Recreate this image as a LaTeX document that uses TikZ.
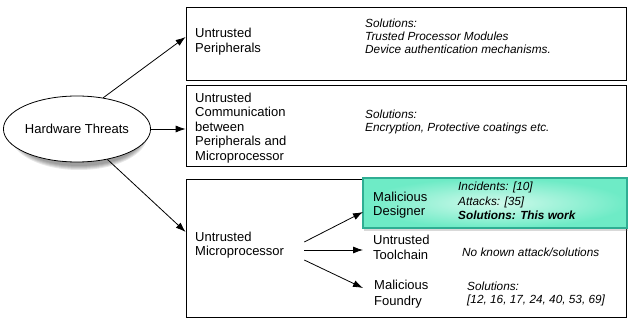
\documentclass[tikz,border=0pt]{standalone}
\usepackage{fontspec}
\setmainfont{Liberation Sans}
\usetikzlibrary{shapes.geometric,shadows,arrows.meta}

\definecolor{mintin}{HTML}{D2FAEC}
\definecolor{mintout}{HTML}{6EEBC6}
\definecolor{mintline}{HTML}{2FAE93}

\begin{document}
\begin{tikzpicture}[x=1pt,y=-1pt,
    box/.style={draw, line width=0.8pt, minimum width=440, inner sep=0},
    label/.style={anchor=west, align=left, inner sep=0, font=\fontsize{13}{14.5}\selectfont},
    note/.style={anchor=west, align=left, inner sep=0, font=\fontsize{11.8}{13}\selectfont\itshape},
    arr/.style={line width=0.8pt, -{Latex[length=10pt,width=7pt]}}]
    \useasboundingbox (0,0) rectangle (628,320);

    % Root with soft shadow
    \foreach \s in {0,...,4}
        \fill[black, opacity=0.09] (79,135) ellipse ({64.5+\s} and {31+\s});
    \node[ellipse, draw, line width=0.8pt, fill=white, minimum width=133, minimum height=66,
          inner sep=0, font=\fontsize{13}{14.5}\selectfont] (threats) at (77,129) {Hardware Threats};

    % Threat boxes
    \node[box, minimum height=73] (periph) at (406,43.5) {};
    \node[box, minimum height=81] (comm) at (406,125.5) {};
    \node[box, minimum height=138] (micro) at (406,248) {};

    % 1. Peripherals
    \node[label] (periphtxt) at (195,41.5) {Untrusted\\Peripherals};
    \node[note] (periphsol) at (365,36.5) {Solutions:\\Trusted Processor Modules\\Device authentication mechanisms.};

    % 2. Communication
    \node[label] (commtxt) at (195,128) {Untrusted\\Communication\\between\\Peripherals and\\Microprocessor};
    \node[note] (commsol) at (365,122) {Solutions:\\Encryption, Protective coatings etc.};

    % 3. Microprocessor
    \node[draw=mintline, line width=1.2pt, shading=radial, inner color=mintin, outer color=mintout,
          minimum width=264, minimum height=50,
          drop shadow={shadow xshift=1pt, shadow yshift=-2.5pt, opacity=0.3}] (designbox) at (495,203) {};
    \node[label] (microtxt) at (195,245) {Untrusted\\Microprocessor};
    \node[label] (designer) at (373,205) {Malicious\\Designer};
    \node[note, font=\fontsize{11.8}{14.5}\selectfont\itshape] (designsol) at (458,201)
        {Incidents: [10]\\Attacks: [35]\\\textbf{Solutions: This work}};
    \node[label, font=\fontsize{13}{15.5}\selectfont] (toolchain) at (373,247.5) {Untrusted\\Toolchain};
    \node[note] (toolsol) at (462,252) {No known attack/solutions};
    \node[label, font=\fontsize{13}{16}\selectfont] (foundry) at (374,294) {Malicious\\Foundry};
    \node[note] (foundrysol) at (467,293.5) {Solutions:\\{[12, 16, 17, 24, 40, 53, 69]}};

    % Connectors
    \draw[arr] (threats.50) -- ([yshift=6.5pt]periph.west);
    \draw[arr] (threats.east) -- (threats.east -| comm.west);
    \draw[arr] (threats.-45) -- ([yshift=16pt]micro.west);
    \draw[arr] ([xshift=20pt,yshift=3pt]microtxt.east) -- ([xshift=-10pt,yshift=-7pt]designer.west);
    \draw[arr] ([xshift=20pt,yshift=-5pt]microtxt.east) -- ([xshift=-10pt,yshift=-2.5pt]toolchain.west);
    \draw[arr] ([xshift=20pt,yshift=-15pt]microtxt.east) -- ([xshift=-11pt,yshift=6pt]foundry.west);
\end{tikzpicture}
\end{document}
